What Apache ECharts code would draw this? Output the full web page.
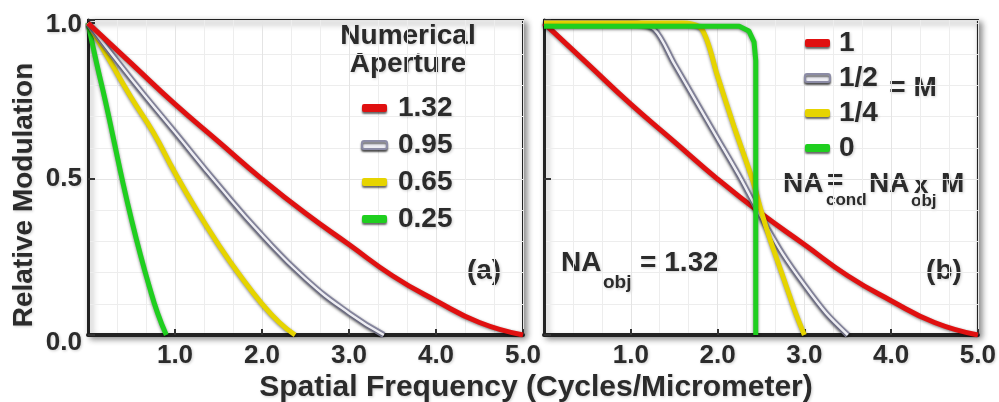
<!DOCTYPE html>
<html>
<head>
<meta charset="utf-8">
<title>Modulation transfer</title>
<script src="https://cdn.jsdelivr.net/npm/echarts@6/dist/echarts.min.js"></script>
<style>
  html, body { margin: 0; padding: 0; background: #fff; }
  #chart { width: 999px; height: 402px; }
</style>
</head>
<body>
<div id="chart"></div>
<script>
// panel (a): numerical aperture
var freqRed = [0, 0.5, 1, 1.5, 2, 2.5, 3, 3.5, 4, 4.5, 5];
var modRed = [1, 0.87, 0.74, 0.62, 0.5, 0.39, 0.29, 0.19, 0.11, 0.04, 0];
var freqGray = [0, 0.5, 1, 1.5, 2, 2.5, 3, 3.4];
var modGray = [1, 0.82, 0.65, 0.48, 0.32, 0.18, 0.07, 0];
var freqYellow = [0, 0.25, 0.5, 0.75, 1, 1.25, 1.5, 1.75, 2, 2.2, 2.38];
var modYellow = [1, 0.88, 0.76, 0.65, 0.52, 0.4, 0.29, 0.19, 0.1, 0.04, 0];
var freqGreen = [0, 0.1, 0.2, 0.3, 0.4, 0.5, 0.6, 0.7, 0.8, 0.9];
var modGreen = [1, 0.87, 0.75, 0.62, 0.49, 0.37, 0.26, 0.16, 0.07, 0];

// panel (b): condenser factor M
var freqHalf = [0, 1.0, 1.27, 1.5, 1.75, 2, 2.25, 2.5, 2.75, 3, 3.25, 3.5];
var modHalf = [1, 1, 0.98, 0.87, 0.75, 0.63, 0.51, 0.38, 0.26, 0.16, 0.07, 0];
var freqQuarter = [0, 1.6, 1.82, 2.0, 2.2, 2.4, 2.5, 2.6, 2.7, 2.8, 2.9, 3.0];
var modQuarter = [1, 1, 0.98, 0.83, 0.66, 0.5, 0.4, 0.31, 0.23, 0.15, 0.07, 0];
var freqZero = [0, 2.25, 2.36, 2.42, 2.44, 2.44];
var modZero = [0.99, 0.99, 0.975, 0.94, 0.88, 0];

var namesA = ["1.32", "0.95", "0.65", "0.25"];
var namesB = ["1", "1/2", "1/4", "0"];
var xTicks = ["1.0", "2.0", "3.0", "4.0", "5.0"];

var RED = "#e01010", GRAY = "#8c8ca6", GRAY_LT = "#ededf3", YELLOW = "#e6d400", GREEN = "#1fcf1f";
var FONT = "'Liberation Sans', Arial, sans-serif";
var INK = "#2b2b2b";

function pairs(xs, ys) {
  return xs.map(function (x, i) { return [x, ys[i]]; });
}

function line(name, gi, data, color, width, smooth) {
  return {
    name: name,
    type: "line",
    xAxisIndex: gi,
    yAxisIndex: gi,
    data: data,
    showSymbol: false,
    smooth: smooth,
    itemStyle: { color: color },
    lineStyle: {
      color: color,
      width: width,
      shadowColor: "rgba(0,0,0,0.5)",
      shadowBlur: 3,
      shadowOffsetY: 1
    },
    emphasis: { disabled: true }
  };
}

var shadowText = {
  textShadowColor: "rgba(0,0,0,0.2)",
  textShadowBlur: 3,
  textShadowOffsetX: 1,
  textShadowOffsetY: 1
};

function txt(text, x, y, size, align, extra) {
  var el = {
    type: "text",
    x: x,
    y: y,
    style: Object.assign({
      text: text,
      fill: INK,
      fontFamily: FONT,
      fontWeight: "bold",
      fontSize: size,
      align: align || "center",
      verticalAlign: "middle"
    }, shadowText)
  };
  if (extra) Object.assign(el, extra);
  return el;
}

var labelStyle = Object.assign({
  color: INK,
  fontFamily: FONT,
  fontWeight: "bold",
  fontSize: 26
}, shadowText);

function gridBox(left, width) {
  return {
    left: left, top: 20, width: width, height: 315,
    show: true,
    backgroundColor: "#fff",
    borderColor: "#222",
    borderWidth: 2,
    shadowColor: "rgba(0,0,0,0.45)",
    shadowBlur: 6,
    shadowOffsetX: 3,
    shadowOffsetY: 3
  };
}

function xAx(gi) {
  return {
    gridIndex: gi,
    type: "value",
    min: 0, max: 5, interval: 1,
    axisLine: { show: true, onZero: false, lineStyle: { color: "#222", width: 4 } },
    axisTick: { show: true, inside: true, length: 6, lineStyle: { color: "#333", width: 2 } },
    axisLabel: Object.assign({
      showMinLabel: false,
      margin: 8,
      formatter: function (v) { return v > 0 ? xTicks[Math.round(v) - 1] : ""; }
    }, labelStyle),
    splitLine: { show: true, lineStyle: { color: "#e4e4e4", width: 1 } },
    minorTick: { show: false, splitNumber: 3 },
    minorSplitLine: { show: true, lineStyle: { color: "#ededed", width: 1 } }
  };
}

function yAx(gi, labels) {
  var rich = {
    lo: Object.assign({ padding: [16, 0, 0, 0] }, labelStyle),
    hi: Object.assign({ padding: [4, 0, 0, 0] }, labelStyle)
  };
  return {
    gridIndex: gi,
    type: "value",
    min: 0, max: 1.01, interval: 0.5,
    axisLine: { show: true, onZero: false, lineStyle: { color: "#222", width: 3 } },
    axisTick: { show: true, inside: true, length: 7, lineStyle: { color: "#333", width: 2 } },
    axisLabel: Object.assign({
      show: labels,
      margin: 6,
      rich: rich,
      formatter: function (v) {
        if (v === 0) return "{lo|0.0}";
        if (v === 0.5) return "0.5";
        if (v === 1) return "{hi|1.0}";
        return "";
      }
    }, labelStyle),
    splitLine: { show: true, lineStyle: { color: "#e4e4e4", width: 1 } },
    minorTick: { show: false, splitNumber: 5 },
    minorSplitLine: { show: true, lineStyle: { color: "#ededed", width: 1 } }
  };
}

function legendBox(left, top, gap, names, pad) {
  return {
    orient: "vertical",
    left: left,
    top: top,
    itemGap: gap,
    itemWidth: 25,
    itemHeight: 8,
    icon: "roundRect",
    selectedMode: false,
    itemStyle: { shadowColor: "rgba(0,0,0,0.6)", shadowBlur: 2, shadowOffsetY: 2 },
    textStyle: Object.assign({}, labelStyle, { fontSize: 28, lineHeight: 28, padding: [0, 0, 0, pad] }),
    data: names.map(function (n, i) {
      if (i === 1) return { name: n, itemStyle: { color: GRAY_LT, borderColor: GRAY, borderWidth: 2 } };
      return { name: n };
    })
  };
}

var chart = echarts.init(document.getElementById("chart"), null, { renderer: "canvas" });

var option = {
  animation: false,
  backgroundColor: "#fff",
  grid: [gridBox(88, 435), gridBox(544, 436)],
  xAxis: [xAx(0), xAx(1)],
  yAxis: [yAx(0, true), yAx(1, false)],
  legend: [
    legendBox(356, 89, 9, namesA, 6),
    legendBox(799, 24, 7, namesB, 4)
  ],
  series: [
    line(namesA[3], 0, pairs(freqGreen, modGreen), GREEN, 5, 0.5),
    line(namesA[2], 0, pairs(freqYellow, modYellow), YELLOW, 5, 0.5),
    line(namesA[1], 0, pairs(freqGray, modGray), GRAY, 6, 0.5),
    line("a-gray-core", 0, pairs(freqGray, modGray), GRAY_LT, 2.5, 0.5),
    line(namesA[0], 0, pairs(freqRed, modRed), RED, 5, 0.5),

    line(namesB[0], 1, pairs(freqRed, modRed), RED, 5, 0.5),
    line(namesB[1], 1, pairs(freqHalf, modHalf), GRAY, 6, 0.3),
    line("b-gray-core", 1, pairs(freqHalf, modHalf), GRAY_LT, 2.5, 0.3),
    line(namesB[2], 1, pairs(freqQuarter, modQuarter), YELLOW, 5, 0.3),
    line(namesB[3], 1, pairs(freqZero, modZero), GREEN, 5, false)
  ],
  graphic: [
    txt("Relative Modulation", 24, 195, 28, "center", { rotation: Math.PI / 2 }),
    txt("Spatial Frequency (Cycles/Micrometer)", 536, 388, 30),
    txt("Numerical", 408, 36, 28),
    txt("Aperture", 408, 64, 28),
    txt("(a)", 484, 271, 28),
    txt("(b)", 944, 271, 28),
    txt("= M", 913, 88, 28),
    txt("NA", 561, 263, 28, "left"),
    txt("obj", 603, 283, 19, "left"),
    txt("= 1.32", 640, 263, 28, "left"),
    txt("NA", 783, 184, 28, "left"),
    txt("=", 827, 181, 28, "left"),
    txt("cond", 826, 200, 17, "left"),
    txt("NA", 869, 184, 28, "left"),
    txt("x", 914, 186, 26, "left"),
    txt("obj", 911, 201, 17, "left"),
    txt("M", 941, 184, 28, "left")
  ]
};

chart.setOption(option);
</script>
</body>
</html>
